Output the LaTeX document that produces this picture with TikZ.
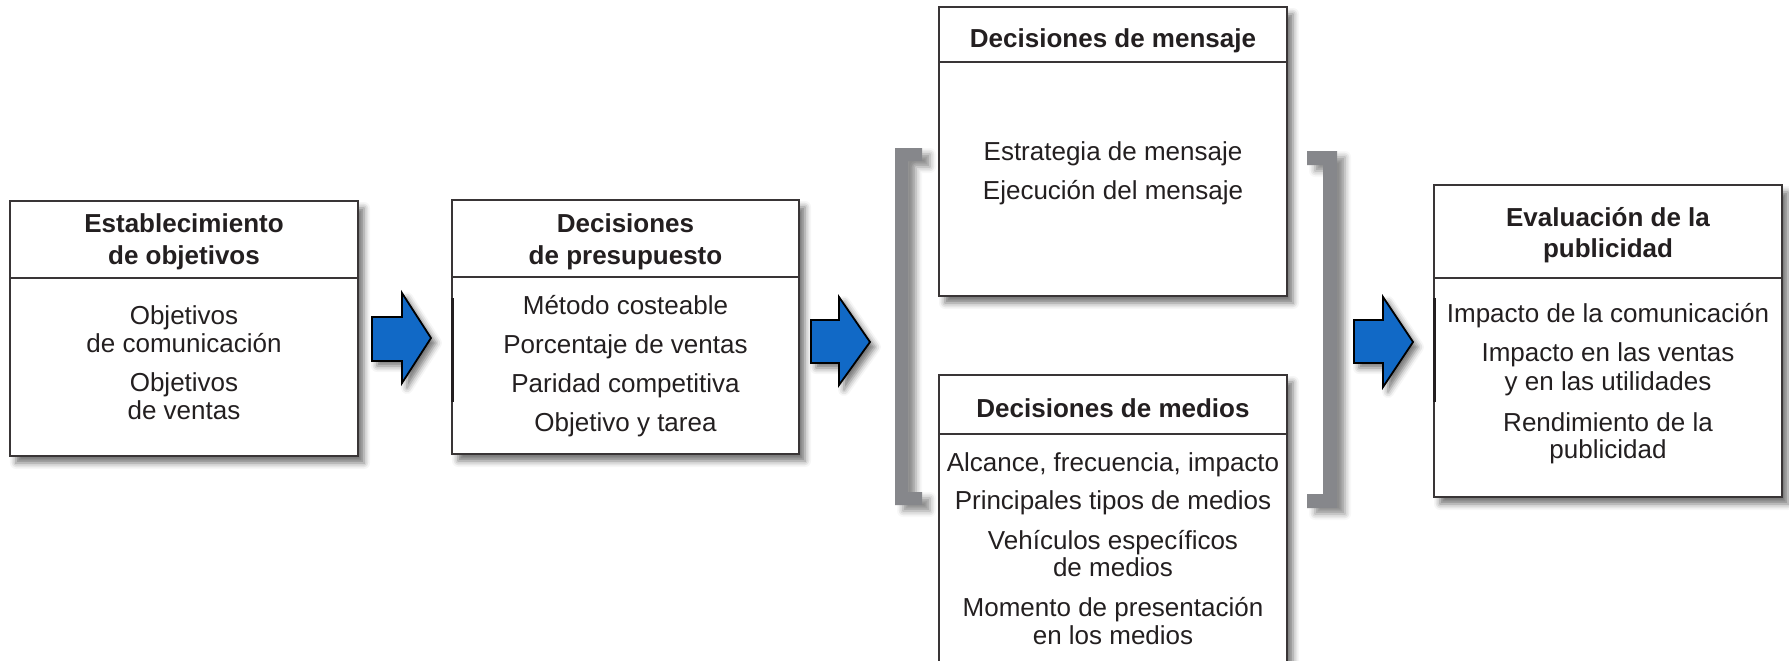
\documentclass[tikz,border=0pt]{standalone}
\usepackage{fontspec}
\setmainfont{Liberation Sans}
\usetikzlibrary{fit,shadows.blur}
\definecolor{txt}{RGB}{35,31,32}
\definecolor{arrblue}{RGB}{17,105,198}
\definecolor{brgray}{RGB}{134,135,139}
\tikzset{
  box/.style={draw=txt!90, line width=0.8pt, fill=white, inner sep=0pt,
    blur shadow={shadow xshift=3pt, shadow yshift=-3.5pt, shadow blur radius=3pt, shadow opacity=55}},
  divider/.style={draw=txt!90, line width=0.8pt},
  lbl/.style={anchor=base, inner sep=0pt, text=txt, font=\fontsize{13}{14}\selectfont},
  ttl/.style={lbl, font=\fontsize{13}{14}\selectfont\bfseries},
  blockarrow/.style={draw=black, line width=0.9pt, fill=arrblue, line join=miter,
    blur shadow={shadow xshift=2.5pt, shadow yshift=-2.5pt, shadow blur radius=3pt, shadow opacity=55}},
  bracketshape/.style={fill=brgray, draw=none,
    blur shadow={shadow xshift=4pt, shadow yshift=-3pt, shadow blur radius=3pt, shadow opacity=45}},
  edgebar/.style={draw=txt, line width=1.5pt}
}
\begin{document}
\begin{tikzpicture}[x=0.5pt, y=-0.5pt]
\useasboundingbox (0,0) rectangle (1789,660);

% brackets
\path[bracketshape] (922,148) -- (895,148) -- (895,505) -- (922,505) -- (922,492) -- (908,492) -- (908,161) -- (922,161) -- cycle;
\path[bracketshape] (1307,151) -- (1337,151) -- (1337,508) -- (1307,508) -- (1307,494) -- (1323,494) -- (1323,165) -- (1307,165) -- cycle;

% boxes
\node[box, fit={(10,201)(358,456)}] (b1) {};
\node[box, fit={(452,200)(799,454)}] (b2) {};
\node[box, fit={(939,7)(1287,296)}] (b3) {};
\node[box, fit={(939,375)(1287,700)}] (b4) {};
\node[box, fit={(1434,185)(1782,497)}] (b5) {};

% dividers
\draw[divider] (10,278) -- (358,278);
\draw[divider] (452,277) -- (799,277);
\draw[divider] (939,62) -- (1287,62);
\draw[divider] (939,434) -- (1287,434);
\draw[divider] (1434,278) -- (1782,278);

% dark edge marks
\draw[edgebar] (452,298) -- (452,402);
\draw[edgebar] (1434,298) -- (1434,402);

% block arrows
\draw[blockarrow] (372,317) -- (402,317) -- (402,293) -- (431,338) -- (402,383) -- (402,361) -- (372,361) -- cycle;
\draw[blockarrow] (811,320) -- (839,320) -- (839,297) -- (870,342) -- (839,385) -- (839,363) -- (811,363) -- cycle;
\draw[blockarrow] (1354,320) -- (1383,320) -- (1383,297) -- (1413,342) -- (1383,387) -- (1383,363) -- (1354,363) -- cycle;

% box 1 text
\node[ttl] (t1a) at (184,232) {Establecimiento};
\node[ttl] (t1b) at (184,264) {de objetivos};
\node[lbl] (t1c) at (184,324) {Objetivos};
\node[lbl] (t1d) at (184,352) {de comunicación};
\node[lbl] (t1e) at (184,391) {Objetivos};
\node[lbl] (t1f) at (184,419) {de ventas};

% box 2 text
\node[ttl] (t2a) at (625.5,232) {Decisiones};
\node[ttl] (t2b) at (625.5,264) {de presupuesto};
\node[lbl] (t2c) at (625.5,314) {Método costeable};
\node[lbl] (t2d) at (625.5,353) {Porcentaje de ventas};
\node[lbl] (t2e) at (625.5,392) {Paridad competitiva};
\node[lbl] (t2f) at (625.5,431) {Objetivo y tarea};

% box 3 text
\node[ttl] (t3a) at (1113,47) {Decisiones de mensaje};
\node[lbl] (t3b) at (1113,160) {Estrategia de mensaje};
\node[lbl] (t3c) at (1113,199) {Ejecución del mensaje};

% box 4 text
\node[ttl] (t4a) at (1113,417) {Decisiones de medios};
\node[lbl] (t4b) at (1113,471) {Alcance, frecuencia, impacto};
\node[lbl] (t4c) at (1113,509) {Principales tipos de medios};
\node[lbl] (t4d) at (1113,549) {Vehículos específicos};
\node[lbl] (t4e) at (1113,576) {de medios};
\node[lbl] (t4f) at (1113,616) {Momento de presentación};
\node[lbl] (t4g) at (1113,644) {en los medios};

% box 5 text
\node[ttl] (t5a) at (1608,226) {Evaluación de la};
\node[ttl] (t5b) at (1608,257) {publicidad};
\node[lbl] (t5c) at (1608,322) {Impacto de la comunicación};
\node[lbl] (t5d) at (1608,361) {Impacto en las ventas};
\node[lbl] (t5e) at (1608,390) {y en las utilidades};
\node[lbl] (t5f) at (1608,431) {Rendimiento de la};
\node[lbl] (t5g) at (1608,458) {publicidad};
\end{tikzpicture}
\end{document}
